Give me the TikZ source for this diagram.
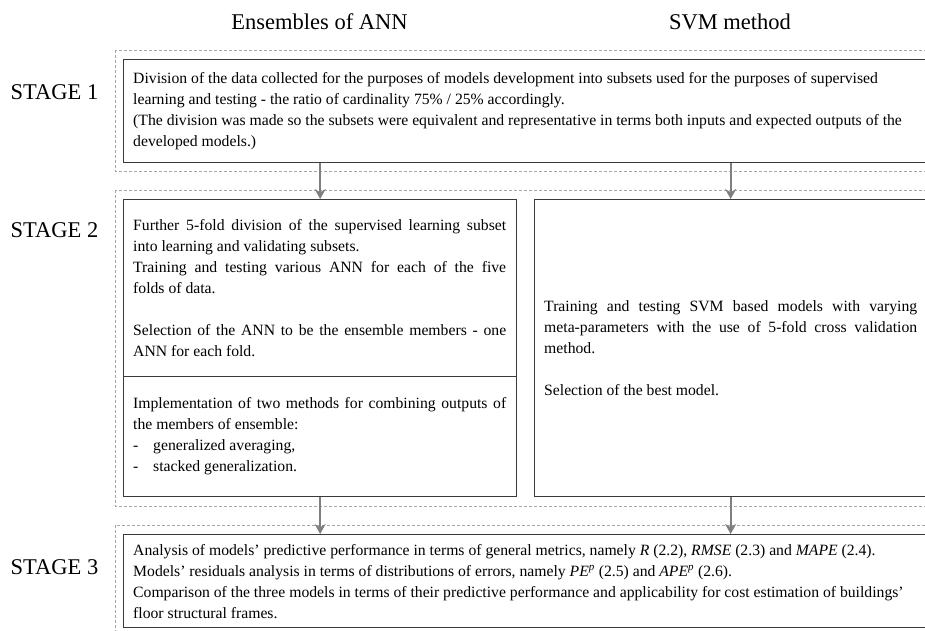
\documentclass[tikz,border=0pt]{standalone}
\usepackage{fontspec}
\setmainfont{Liberation Serif}
\usetikzlibrary{arrows.meta}
\definecolor{boxline}{HTML}{3A3A3A}
\definecolor{dashline}{HTML}{A6A6A6}
\definecolor{arrowgray}{HTML}{7F7F7F}
\begin{document}
\begin{tikzpicture}[x=1pt,y=-1pt,
  solidbox/.style={draw=boxline, line width=1.3pt, inner sep=0pt, anchor=north west},
  dashbox/.style={draw=dashline, line width=0.8pt, dash pattern=on 3pt off 2pt},
  body/.style={inner sep=0pt, font=\fontsize{15.7}{21}\selectfont},
  jtext/.style={body, text width=373pt, align=justify, anchor=west},
  ltext/.style={body, align=left, anchor=west},
  heading/.style={inner sep=0pt, font=\fontsize{22.5}{26}\selectfont},
  arr/.style={draw=arrowgray, line width=2pt, -{Stealth[length=10pt,width=11pt]}}]
\useasboundingbox (0,0) rectangle (925,630);

% titles
\node[heading] (h1) at (319.5,22) {Ensembles of ANN};
\node[heading] (h2) at (730,22) {SVM method};

% stage labels
\node[heading] (st1) at (54.5,92) {STAGE 1};
\node[heading] (st2) at (54.5,230) {STAGE 2};
\node[heading] (st3) at (54.5,567) {STAGE 3};

% dashed stage frames
\draw[dashbox] (115,50) rectangle (935,171);
\draw[dashbox] (115,190) rectangle (935,506);
\draw[dashbox] (115,525) rectangle (935,645);

% stage 1
\node[solidbox, minimum width=803pt, minimum height=103pt] (s1) at (123,59) {};
\node[ltext] (t1) at ([xshift=10pt]s1.west) {Division of the data collected for the purposes of models development into subsets used for the purposes of supervised\\
learning and testing - the ratio of cardinality 75\% / 25\% accordingly.\\
(The division was made so the subsets were equivalent and representative in terms both inputs and expected outputs of the\\
developed models.)};

% stage 2 left column
\node[solidbox, minimum width=393pt, minimum height=177pt] (la) at (123,199) {};
\node[solidbox, minimum width=393pt, minimum height=120pt] (lb) at (123,376) {};
\node[jtext] (tla) at ([xshift=10pt]la.west) {Further 5-fold division of the supervised learning subset \linebreak
into learning and validating subsets.\\
Training and testing various ANN for each of the five \linebreak
folds of data.\\[21pt]
Selection of the ANN to be the ensemble members - one \linebreak
ANN for each fold.};
\node[jtext] (tlb) at ([xshift=10pt]lb.west) {Implementation of two methods for combining outputs of \linebreak
the members of ensemble:\\
\makebox[20pt][l]{-}generalized averaging,\\
\makebox[20pt][l]{-}stacked generalization.};

% stage 2 right column
\node[solidbox, minimum width=392pt, minimum height=297pt] (rb) at (534,199) {};
\node[jtext] (trb) at ([xshift=10pt]rb.west) {Training and testing SVM based models with varying \linebreak
meta-parameters with the use of 5-fold cross validation \linebreak
method.\\[21pt]
Selection of the best model.};

% stage 3
\node[solidbox, minimum width=803pt, minimum height=93pt] (s3) at (123,534) {};
\node[ltext] (t3) at ([xshift=10pt]s3.west) {Analysis of models’ predictive performance in terms of general metrics, namely \textit{R} (2.2), \textit{RMSE} (2.3) and \textit{MAPE} (2.4).\\
Models’ residuals analysis in terms of distributions of errors, namely \textit{PE\textsuperscript{p}} (2.5) and \textit{APE\textsuperscript{p}} (2.6).\\
Comparison of the three models in terms of their predictive performance and applicability for cost estimation of buildings’\\
floor structural frames.};

% connectors
\draw[arr] (s1.south -| la.north) -- (la.north);
\draw[arr] (s1.south -| rb.north) -- (rb.north);
\draw[arr] (lb.south) -- (lb.south |- s3.north);
\draw[arr] (rb.south) -- (rb.south |- s3.north);
\end{tikzpicture}
\end{document}
